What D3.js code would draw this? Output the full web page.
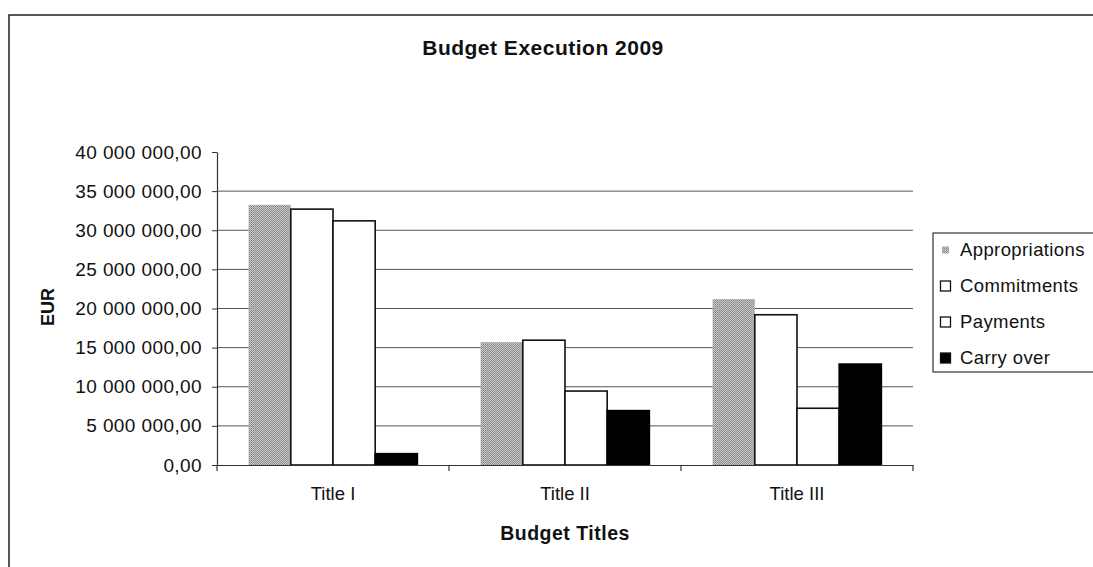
<!DOCTYPE html>
<html>
<head>
<meta charset="utf-8">
<script src="https://cdn.jsdelivr.net/npm/d3@7"></script>
<style>
  body { margin: 0; background: #fff; }
  text { font-family: "Liberation Sans", Arial, sans-serif; fill: #111; }
  .yAxis .domain, .xAxis .domain { stroke: #333; stroke-width: 1.2; }
  .yAxis .tick line, .xAxis .tick line { stroke: #333; }
</style>
</head>
<body>
<div id="chart"></div>
<script>
// data
const categories = ["Title I", "Title II", "Title III"];
const seriesNames = ["Appropriations", "Commitments", "Payments", "Carry over"];
const appropriations = [33250000, 15700000, 21200000];
const commitments = [32700000, 15950000, 19200000];
const payments = [31200000, 9450000, 7250000];
const carryOver = [1450000, 6950000, 12900000];
const yTicks = [0, 5000000, 10000000, 15000000, 20000000, 25000000, 30000000, 35000000, 40000000];

const values = [appropriations, commitments, payments, carryOver];
const data = categories.map((c, i) => ({
  cat: c,
  vals: seriesNames.map((s, j) => ({ key: s, value: values[j][i] }))
}));

const W = 1093, H = 567;
const plot = { left: 217, right: 913, top: 152, bottom: 465 };

const svg = d3.select("#chart").append("svg")
  .attr("width", W)
  .attr("height", H);

// grey dotted fill like the scan
const defs = svg.append("defs");
const pat = defs.append("pattern")
  .attr("id", "dots")
  .attr("width", 2).attr("height", 2)
  .attr("patternUnits", "userSpaceOnUse");
pat.append("rect").attr("width", 2).attr("height", 2).attr("fill", "#c4c4c4");
pat.append("rect").attr("width", 1).attr("height", 1).attr("fill", "#8a8a8a");
pat.append("rect").attr("x", 1).attr("y", 1).attr("width", 1).attr("height", 1).attr("fill", "#9a9a9a");

const fills = ["url(#dots)", "#fff", "#fff", "#000"];
const strokes = ["none", "#111", "#111", "#000"];

// outer chart border
svg.append("rect")
  .attr("x", 9).attr("y", 15)
  .attr("width", W + 20).attr("height", H + 20)
  .attr("fill", "none")
  .attr("stroke", "#222")
  .attr("stroke-width", 1.5);

const yScale = d3.scaleLinear()
  .domain([0, 40000000])
  .range([plot.bottom, plot.top]);

const xScale = d3.scaleBand()
  .domain(categories)
  .range([plot.left, plot.right])
  .padding(0);

const inner = d3.scaleBand()
  .domain(seriesNames)
  .range([0, xScale.bandwidth()])
  .paddingInner(0)
  .paddingOuter(0.75);

const locale = d3.formatLocale({ decimal: ",", thousands: " ", grouping: [3], currency: ["", "€"] });
const fmt = locale.format(",.2f");

// gridlines
svg.append("g")
  .selectAll("line")
  .data(yTicks.filter(t => t > 0 && t < 40000000))
  .enter()
  .append("line")
  .attr("x1", plot.left).attr("x2", plot.right)
  .attr("y1", d => yScale(d)).attr("y2", d => yScale(d))
  .attr("stroke", "#555")
  .attr("stroke-width", 1);

// bars
const groups = svg.selectAll(".grp")
  .data(data)
  .enter()
  .append("g")
  .attr("class", "grp")
  .attr("transform", d => `translate(${xScale(d.cat)}, 0)`);

groups.selectAll("rect")
  .data(d => d.vals)
  .enter()
  .append("rect")
  .attr("x", d => inner(d.key))
  .attr("y", d => yScale(d.value))
  .attr("width", inner.bandwidth())
  .attr("height", d => yScale(0) - yScale(d.value))
  .attr("fill", (d, i) => fills[i])
  .attr("stroke", (d, i) => strokes[i])
  .attr("stroke-width", 1.6);

// y axis
const yAxisGroup = svg.append("g")
  .attr("class", "yAxis")
  .attr("transform", `translate(${plot.left}, 0)`)
  .call(d3.axisLeft(yScale)
    .tickValues(yTicks)
    .tickFormat(fmt)
    .tickSize(5)
    .tickSizeOuter(0)
    .tickPadding(10));
yAxisGroup.selectAll("text")
  .style("font-size", "19px")
  .style("letter-spacing", "0.4px")
  .style("font-family", "'Liberation Sans', Arial, sans-serif")
  .attr("fill", "#111");

// x axis
const xAxisGroup = svg.append("g")
  .attr("class", "xAxis")
  .attr("transform", `translate(0, ${plot.bottom})`)
  .call(d3.axisBottom(xScale)
    .tickSize(0)
    .tickSizeOuter(0)
    .tickPadding(22));
xAxisGroup.selectAll("text")
  .style("font-size", "18.5px")
  .style("font-family", "'Liberation Sans', Arial, sans-serif")
  .attr("fill", "#111");

// category boundary ticks
xAxisGroup.selectAll(".bound")
  .data([categories[0]].concat(categories))
  .enter()
  .append("line")
  .attr("class", "bound")
  .attr("x1", (d, i) => i === 0 ? xScale(d) : xScale(d) + xScale.bandwidth())
  .attr("x2", (d, i) => i === 0 ? xScale(d) : xScale(d) + xScale.bandwidth())
  .attr("y1", 0).attr("y2", 6)
  .attr("stroke", "#333")
  .attr("stroke-width", 1.2);

// titles
svg.append("text")
  .attr("x", 543).attr("y", 55)
  .attr("text-anchor", "middle")
  .style("font-size", "21px")
  .style("font-weight", "bold")
  .style("letter-spacing", "0.5px")
  .text("Budget Execution 2009");

svg.append("text")
  .attr("x", (plot.left + plot.right) / 2).attr("y", 540)
  .attr("text-anchor", "middle")
  .style("font-size", "19.5px")
  .style("font-weight", "bold")
  .style("letter-spacing", "0.5px")
  .text("Budget Titles");

svg.append("text")
  .attr("transform", "rotate(-90)")
  .attr("x", -307).attr("y", 54)
  .attr("text-anchor", "middle")
  .style("font-size", "18px")
  .style("font-weight", "bold")
  .text("EUR");

// legend
const legend = svg.append("g").attr("class", "legend");
legend.append("rect")
  .attr("x", 933).attr("y", 233)
  .attr("width", 170).attr("height", 139)
  .attr("fill", "#fff")
  .attr("stroke", "#333")
  .attr("stroke-width", 1.2);

const legY = d3.scalePoint()
  .domain(seriesNames)
  .range([250, 358]);

const items = legend.selectAll(".item")
  .data(seriesNames)
  .enter()
  .append("g")
  .attr("class", "item")
  .attr("transform", d => `translate(0, ${legY(d)})`);

items.append("rect")
  .attr("x", (d, i) => i === 0 ? 942 : 940.5)
  .attr("y", (d, i) => i === 0 ? -3.5 : -5)
  .attr("width", (d, i) => i === 0 ? 7 : 10)
  .attr("height", (d, i) => i === 0 ? 7 : 10)
  .attr("fill", (d, i) => fills[i])
  .attr("stroke", (d, i) => i === 0 ? "none" : "#111")
  .attr("stroke-width", 1.3);

items.append("text")
  .attr("x", 960)
  .attr("dy", "0.35em")
  .style("font-size", "18.5px")
  .style("letter-spacing", "0.4px")
  .text(d => d);
</script>
</body>
</html>
